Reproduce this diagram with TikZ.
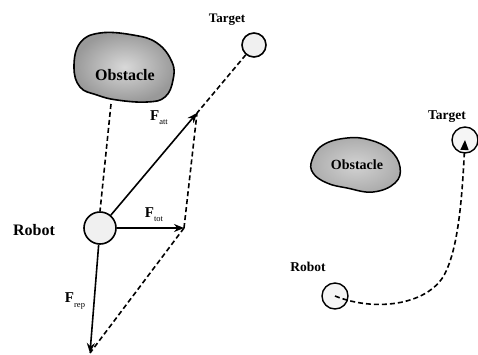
\documentclass[tikz,border=0pt]{standalone}
\usepackage{fontspec}
\setmainfont{Liberation Serif}
\usetikzlibrary{arrows.meta}
\begin{document}
\begin{tikzpicture}[x=1pt,y=-1pt,
  lbl/.style={font=\bfseries\fontsize{15}{15}\selectfont, inner sep=0pt},
  smalllbl/.style={font=\bfseries\fontsize{13}{13}\selectfont, inner sep=0pt},
  flbl/.style={font=\fontsize{15}{15}\selectfont, inner sep=0pt},
  ball/.style={circle, draw=black, line width=1.6pt, fill=gray!12, inner sep=0pt},
  rball/.style={circle, draw=black, line width=1.4pt, fill=gray!8, inner sep=0pt},
  force/.style={line width=1.6pt, -{Stealth[length=10pt,width=8pt]}},
  dline/.style={line width=1.6pt, dash pattern=on 5pt off 3pt},
  blob/.style={draw=black, line width=1.6pt}
]
\useasboundingbox (0,0) rectangle (478,354);
\newcommand{\Fsub}[1]{{\bfseries F}\raisebox{-0.6ex}{\fontsize{8.5}{8.5}\selectfont #1}}

% ---------- left figure ----------
\draw[blob, inner color=gray!30, outer color=gray!80]
  plot[smooth cycle, tension=0.7] coordinates {(80,43) (100,33) (133,35) (157,43) (172,62) (173,80) (165,97) (147,102) (117,100) (97,95) (80,87) (74,67)};
\node[lbl, font=\bfseries\fontsize{16}{16}\selectfont] (obsL) at (125,75) {Obstacle};
\coordinate (obsLb) at (111,104);

\node[ball, minimum size=32pt] (robotL) at (100,228) {};
\node[ball, minimum size=24pt] (targetL) at (254,45) {};
\node[lbl, font=\bfseries\fontsize{16}{16}\selectfont] (robotLl) at (34,230) {Robot};
\node[smalllbl] (targetLl) at (227,20) {Target};

\coordinate (att) at (197,113);
\coordinate (tot) at (184,228);
\coordinate (rep) at (90,353);

\draw[force] (robotL) -- (att);
\draw[force] (robotL) -- (tot);
\draw[force] (robotL) -- (rep);
\draw[dline] (obsLb) -- (robotL.north);
\draw[dline] (targetL) -- (att);
\draw[dline] (tot) -- (att);
\draw[dline] (tot) -- (rep);

\node[flbl] (fatt) at (159,118) {\Fsub{att}};
\node[flbl] (ftot) at (154,215) {\Fsub{tot}};
\node[flbl] (frep) at (75,301) {\Fsub{rep}};

% ---------- right figure ----------
\draw[blob, line width=1.5pt, inner color=gray!35, outer color=gray!65]
  plot[smooth cycle, tension=0.7] coordinates {(312,160) (323,145) (347,138) (370,140) (390,150) (400,167) (395,183) (373,192) (347,188) (327,183) (313,173)};
\node[lbl, font=\bfseries\fontsize{14}{14}\selectfont] (obsR) at (357,165) {Obstacle};

\node[rball, minimum size=26pt] (robotR) at (335,296) {};
\node[rball, minimum size=26pt] (targetR) at (465,140) {};
\node[smalllbl, font=\bfseries\fontsize{13.5}{13.5}\selectfont] (robotRl) at (308,267) {Robot};
\node[smalllbl, font=\bfseries\fontsize{13.5}{13.5}\selectfont] (targetRl) at (447,117) {Target};

\draw[dline, -{Triangle[length=10pt,width=8pt]}] (robotR.center) .. controls (375,312) and (425,305) .. (443,277)
  .. controls (458,252) and (462,200) .. (targetR.center);
\end{tikzpicture}
\end{document}
